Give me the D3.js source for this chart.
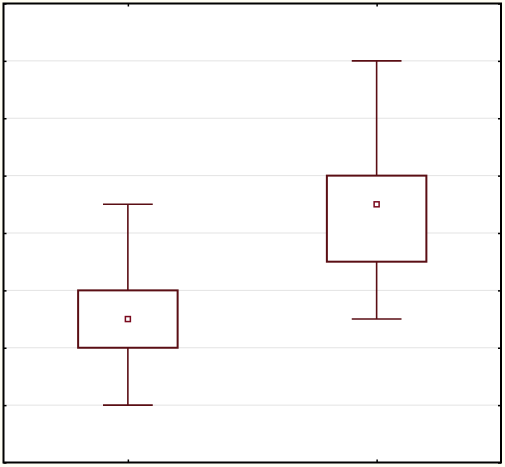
<!DOCTYPE html>
<html>
<head>
<meta charset="utf-8">
<script src="https://cdn.jsdelivr.net/npm/d3@7"></script>
<style>
    html, body { margin: 0; padding: 0; background: #fffef4; }
    svg { display: block; }
</style>
</head>
<body>
<div id="chart"></div>
<script>
// groups and their box statistics
const categories = ['A', 'B'];
const whiskerLow = [1, 2.5];
const boxLow = [2, 3.5];
const boxHigh = [3, 5];
const whiskerHigh = [4.5, 7];
const means = [2.5, 4.5];
const yTicks = [0, 1, 2, 3, 4, 5, 6, 7, 8];

const width = 505;
const height = 467;
const margin = { top: 3.5, right: 4, bottom: 4.5, left: 3.5 };
const boxColor = '#5a0e14';
const meanColor = '#7a0a1e';

const data = categories.map((c, i) => ({
    cat: c,
    wLo: whiskerLow[i],
    q1: boxLow[i],
    q3: boxHigh[i],
    wHi: whiskerHigh[i],
    mean: means[i],
}));

const svg = d3
    .select('#chart')
    .append('svg')
    .attr('width', width)
    .attr('height', height);

const x = d3
    .scalePoint()
    .domain(categories)
    .range([margin.left, width - margin.right])
    .padding(0.5);

const y = d3
    .scaleLinear()
    .domain([0, 8])
    .range([height - margin.bottom, margin.top]);

const plotW = width - margin.left - margin.right;
const boxW = plotW * 0.2;
const capW = plotW * 0.1;

// plot background
svg.append('rect')
    .attr('x', margin.left)
    .attr('y', margin.top)
    .attr('width', plotW)
    .attr('height', height - margin.top - margin.bottom)
    .attr('fill', '#ffffff');

// gridlines
svg.append('g')
    .selectAll('line')
    .data(yTicks.slice(1, -1))
    .join('line')
    .attr('x1', margin.left)
    .attr('x2', width - margin.right)
    .attr('y1', (d) => y(d))
    .attr('y2', (d) => y(d))
    .attr('stroke', '#e3e3e3')
    .attr('stroke-width', 1);

// axes, ticks pointing inward, no labels
const axisStyle = (g) => {
    g.select('.domain').remove();
    g.selectAll('line').attr('stroke', '#000').attr('stroke-width', 1.5);
    g.selectAll('text').remove();
};

svg.append('g')
    .attr('transform', `translate(${margin.left},0)`)
    .call(d3.axisLeft(y).tickValues(yTicks).tickSize(-3))
    .call(axisStyle);

svg.append('g')
    .attr('transform', `translate(${width - margin.right},0)`)
    .call(d3.axisRight(y).tickValues(yTicks).tickSize(-3))
    .call(axisStyle);

svg.append('g')
    .attr('transform', `translate(0,${margin.top})`)
    .call(d3.axisTop(x).tickSize(-3))
    .call(axisStyle);

svg.append('g')
    .attr('transform', `translate(0,${height - margin.bottom})`)
    .call(d3.axisBottom(x).tickSize(-3))
    .call(axisStyle);

// boxes
const boxes = svg.append('g')
    .selectAll('g')
    .data(data)
    .join('g');

boxes.append('line')
    .attr('x1', (d) => x(d.cat))
    .attr('x2', (d) => x(d.cat))
    .attr('y1', (d) => y(d.wLo))
    .attr('y2', (d) => y(d.wHi))
    .attr('stroke', boxColor)
    .attr('stroke-width', 1.6);

boxes.selectAll('.cap')
    .data((d) => [d.wLo, d.wHi].map((v) => ({ cat: d.cat, v })))
    .join('line')
    .attr('class', 'cap')
    .attr('x1', (d) => x(d.cat) - capW / 2)
    .attr('x2', (d) => x(d.cat) + capW / 2)
    .attr('y1', (d) => y(d.v))
    .attr('y2', (d) => y(d.v))
    .attr('stroke', boxColor)
    .attr('stroke-width', 1.6);

boxes.append('rect')
    .attr('x', (d) => x(d.cat) - boxW / 2)
    .attr('y', (d) => y(d.q3))
    .attr('width', boxW)
    .attr('height', (d) => y(d.q1) - y(d.q3))
    .attr('fill', '#ffffff')
    .attr('stroke', boxColor)
    .attr('stroke-width', 2);

boxes.append('rect')
    .attr('x', (d) => x(d.cat) - 2.5)
    .attr('y', (d) => y(d.mean) - 2.5)
    .attr('width', 5)
    .attr('height', 5)
    .attr('fill', '#ffffff')
    .attr('stroke', meanColor)
    .attr('stroke-width', 1.5);

// frame
svg.append('rect')
    .attr('x', margin.left)
    .attr('y', margin.top)
    .attr('width', plotW)
    .attr('height', height - margin.top - margin.bottom)
    .attr('fill', 'none')
    .attr('stroke', '#000')
    .attr('stroke-width', 2);
</script>
</body>
</html>
